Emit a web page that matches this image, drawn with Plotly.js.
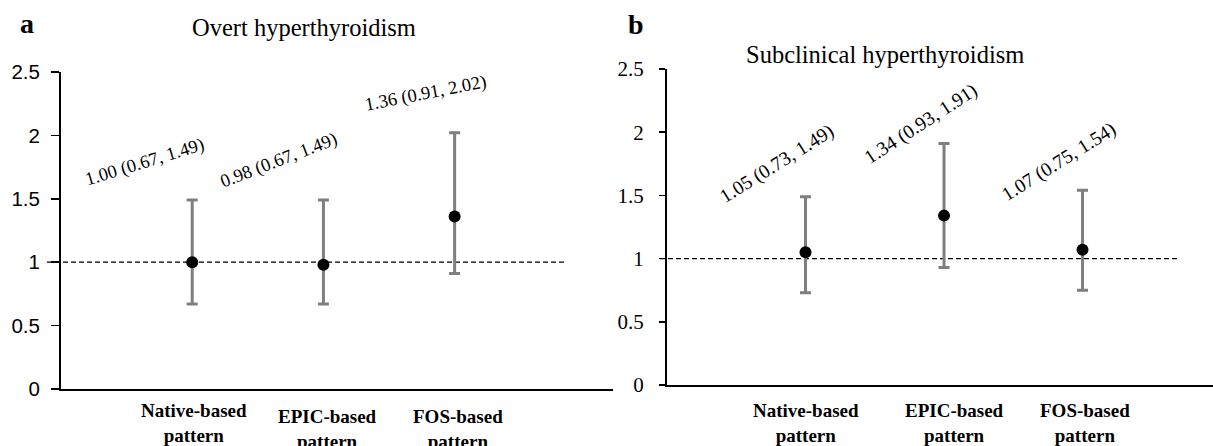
<!DOCTYPE html>
<html>
<head>
<meta charset="utf-8">
<script src="https://cdn.plot.ly/plotly-3.0.1.min.js"></script>
<style>html,body{margin:0;padding:0;background:#fff;}#chart{width:1213px;height:446px;}</style>
</head>
<body>
<div id="chart"></div>
<script>
// ---- data ----
const categories = ['Native-based pattern', 'EPIC-based pattern', 'FOS-based pattern'];
const xPos = [1, 2, 3];
const overtOR = [1.00, 0.98, 1.36];
const overtLo = [0.67, 0.67, 0.91];
const overtHi = [1.49, 1.49, 2.02];
const subOR = [1.05, 1.34, 1.07];
const subLo = [0.73, 0.93, 0.75];
const subHi = [1.49, 1.91, 1.54];
const yTicks = [0, 0.5, 1, 1.5, 2, 2.5];
const yTickText = ['0', '0.5', '1', '1.5', '2', '2.5'];
const panelTitles = ['Overt hyperthyroidism', 'Subclinical hyperthyroidism'];
const panelLetters = ['a', 'b'];
const refValue = 1;

// ---- layout helpers ----
const W = 1213, H = 446;
const px = x => x / W;
const py = y => 1 - y / H;
const fmt = (o, l, h) => `${o.toFixed(2)} (${l.toFixed(2)}, ${h.toFixed(2)})`;

// label placements (data coords of label centre + rotation)
const overtLabelPlace = [[0.633, 1.79, -17], [1.661, 1.806, -21], [2.78, 2.334, -11]];
const subLabelPlace = [[0.794, 1.748, -32], [1.834, 2.065, -33], [2.83, 1.764, -32]];

const errStyle = {color: '#7f7f7f', thickness: 3, width: 5.5};
function trace(or, lo, hi, xa, ya) {
  return {
    type: 'scatter', mode: 'markers', x: xPos, y: or, xaxis: xa, yaxis: ya,
    marker: {color: '#000', size: 12},
    error_y: Object.assign({type: 'data', symmetric: false,
      array: hi.map((h, i) => h - or[i]), arrayminus: or.map((o, i) => o - lo[i])}, errStyle),
    hoverinfo: 'skip', cliponaxis: false
  };
}

const data = [
  trace(overtOR, overtLo, overtHi, 'x', 'y'),
  trace(subOR, subLo, subHi, 'x2', 'y2')
];

const serif = 'Liberation Serif, Times New Roman, serif';
const annotations = [];
function addValueLabels(or, lo, hi, place, xr, yr, size) {
  or.forEach((o, i) => {
    annotations.push({xref: xr, yref: yr, x: place[i][0], y: place[i][1], textangle: place[i][2],
      text: fmt(o, lo[i], hi[i]), showarrow: false, xanchor: 'center', yanchor: 'middle',
      font: {family: serif, size: size, color: '#000'}});
  });
}
addValueLabels(overtOR, overtLo, overtHi, overtLabelPlace, 'x', 'y', 18.5);
addValueLabels(subOR, subLo, subHi, subLabelPlace, 'x2', 'y2', 19.5);

// category labels
const catPlace = [[194, 423], [327, 429], [458, 429], [806, 423], [954, 423], [1085, 423]];
[0, 1].forEach(p => categories.forEach((c, i) => {
  const pl = catPlace[p * 3 + i];
  annotations.push({xref: 'paper', yref: 'paper', x: px(pl[0]), y: py(pl[1]),
    text: '<b>' + c.replace(' ', '<br>') + '</b>', showarrow: false, xanchor: 'center', yanchor: 'middle',
    align: 'center', font: {family: serif, size: 19, color: '#000'}});
}));

// titles and letters
annotations.push({xref: 'paper', yref: 'paper', x: px(304), y: py(28), text: panelTitles[0], showarrow: false,
  xanchor: 'center', yanchor: 'middle', font: {family: serif, size: 24.5, color: '#000'}});
annotations.push({xref: 'paper', yref: 'paper', x: px(885), y: py(54), text: panelTitles[1], showarrow: false,
  xanchor: 'center', yanchor: 'middle', font: {family: serif, size: 24.5, color: '#000'}});
annotations.push({xref: 'paper', yref: 'paper', x: px(27), y: py(23), text: '<b>' + panelLetters[0] + '</b>', showarrow: false,
  xanchor: 'center', yanchor: 'middle', font: {family: serif, size: 28, color: '#000'}});
annotations.push({xref: 'paper', yref: 'paper', x: px(636), y: py(24), text: '<b>' + panelLetters[1] + '</b>', showarrow: false,
  xanchor: 'center', yanchor: 'middle', font: {family: serif, size: 28, color: '#000'}});

const shapes = [
  {type: 'line', xref: 'paper', yref: 'y', x0: px(47), x1: px(566), y0: refValue, y1: refValue,
   line: {color: '#000', width: 1.2, dash: '5px,3px'}, layer: 'below'},
  {type: 'line', xref: 'paper', yref: 'y2', x0: px(660), x1: px(1179), y0: refValue, y1: refValue,
   line: {color: '#000', width: 1.2, dash: '5px,3px'}, layer: 'below'}
];

const xBase = {showgrid: false, zeroline: false, showticklabels: false, ticks: '',
  showline: true, linecolor: '#000', linewidth: 2, fixedrange: true};
const yBase = {showgrid: false, zeroline: false, range: [0, 2.5], tickvals: yTicks, ticktext: yTickText,
  ticks: 'outside', tickcolor: '#000', tickwidth: 1.5,
  showline: true, linecolor: '#000', linewidth: 2, fixedrange: true};

const layout = {
  width: W, height: H, margin: {l: 0, r: 0, t: 0, b: 0},
  paper_bgcolor: '#fff', plot_bgcolor: 'rgba(0,0,0,0)', showlegend: false,
  xaxis: Object.assign({}, xBase, {domain: [px(61), px(613)], range: [0, 4.207], anchor: 'y'}),
  yaxis: Object.assign({}, yBase, {domain: [py(389), py(72)], anchor: 'x', ticklen: 8, ticklabelstandoff: 7,
    tickfont: {family: 'Liberation Sans, Arial, sans-serif', size: 20.5, color: '#000'}}),
  xaxis2: Object.assign({}, xBase, {domain: [px(667), 1], range: [0, 3.942], anchor: 'y2'}),
  yaxis2: Object.assign({}, yBase, {domain: [py(385), py(69)], anchor: 'x2', ticklen: 6, ticklabelstandoff: 11,
    tickfont: {family: serif, size: 21, color: '#000'}}),
  annotations: annotations,
  shapes: shapes
};

Plotly.newPlot('chart', data, layout, {displayModeBar: false, staticPlot: true});
</script>
</body>
</html>
